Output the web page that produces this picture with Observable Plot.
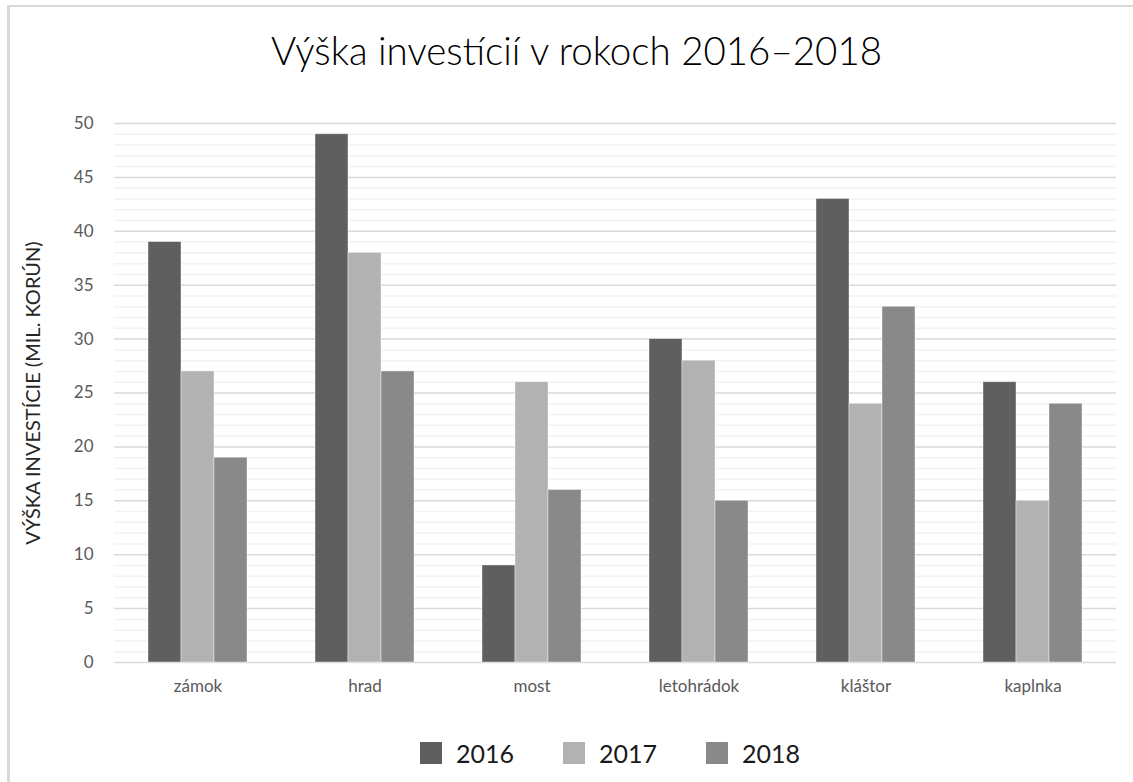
<!DOCTYPE html>
<html>
<head>
<meta charset="utf-8">
<script src="https://cdn.jsdelivr.net/npm/d3@7"></script>
<script src="https://cdn.jsdelivr.net/npm/@observablehq/plot@0.6"></script>
<style>
  html, body { margin: 0; padding: 0; background: #fff; }
  body { width: 1133px; height: 782px; overflow: hidden; position: relative; font-family: Lato, "Open Sans", sans-serif; }
  #frame { position: absolute; z-index: 5; pointer-events: none; left: 7px; top: 5px; width: 1300px; height: 900px; border-left: 3px solid #d9d9d9; border-top: 2px solid #d9d9d9; box-sizing: border-box; }
  #title { position: absolute; left: 10px; top: 23px; width: 1133px; text-align: center; font-size: 38.5px; font-weight: 300; color: #000; line-height: 54px; }
  #chart { position: absolute; left: 0; top: 100px; }
  #legend { position: absolute; top: 738px; left: 420px; display: flex; align-items: center; font-size: 25px; color: #1a1a1a; }
  .item { display: flex; align-items: center; margin-right: 49px; }
  .sw { width: 22px; height: 22px; margin-right: 14px; }
</style>
</head>
<body>
<div id="frame"></div>
<div id="title">Výška investícií v rokoch 2016–2018</div>
<div id="chart"></div>
<div id="legend"></div>
<script>
const categories = ["zámok", "hrad", "most", "letohrádok", "kláštor", "kaplnka"];
const years = ["2016", "2017", "2018"];
const v2016 = [39, 49, 9, 30, 43, 26];
const v2017 = [27, 38, 26, 28, 24, 15];
const v2018 = [19, 27, 16, 15, 33, 24];
const colors = ["#5f5f5f", "#b2b2b2", "#898989"];
const yTicks = [0, 5, 10, 15, 20, 25, 30, 35, 40, 45, 50];
const yLabel = "VÝŠKA INVESTÍCIE (MIL. KORÚN)";

const series = [v2016, v2017, v2018];
const data = categories.flatMap((c, i) => years.map((y, j) => ({category: c, year: y, value: series[j][i]})));
const minorTicks = d3.range(0, 51).filter(d => d % 5 !== 0);

const chart = Plot.plot({
  width: 1133,
  height: 610,
  marginLeft: 111,
  marginRight: 15,
  marginTop: 23,
  marginBottom: 48,
  style: {fontFamily: "Lato, 'Open Sans', sans-serif", fontSize: "17px", color: "#595959", background: "transparent"},
  fx: {domain: categories, padding: 0, label: null},
  x: {domain: years, paddingInner: 0, paddingOuter: 1, axis: null},
  y: {domain: [0, 50]},
  color: {domain: years, range: colors},
  marks: [
    Plot.ruleY(minorTicks, {stroke: "#f2f2f2", strokeWidth: 1.5}),
    Plot.ruleY(yTicks, {stroke: "#d9d9d9", strokeWidth: 1.5}),
    Plot.barY(data, {fx: "category", x: "year", y: "value", fill: "year", stroke: "white", strokeWidth: 0.8, strokeOpacity: 0.5}),
    Plot.axisFx({anchor: "bottom", tickSize: 0, tickPadding: 17, label: null, fontSize: 17}),
    Plot.axisY({ticks: yTicks, tickSize: 0, tickPadding: 21, label: null, fontSize: 17}),
    Plot.axisY({ticks: [], label: yLabel, labelAnchor: "center", labelArrow: "none", labelOffset: 89, fontSize: 20, fill: "#262626"})
  ]
});
document.getElementById("chart").appendChild(chart);

const legend = document.getElementById("legend");
years.forEach((y, i) => {
  const item = document.createElement("div");
  item.className = "item";
  const sw = document.createElement("div");
  sw.className = "sw";
  sw.style.background = colors[i];
  const t = document.createElement("span");
  t.textContent = y;
  item.appendChild(sw);
  item.appendChild(t);
  legend.appendChild(item);
});
</script>
</body>
</html>
